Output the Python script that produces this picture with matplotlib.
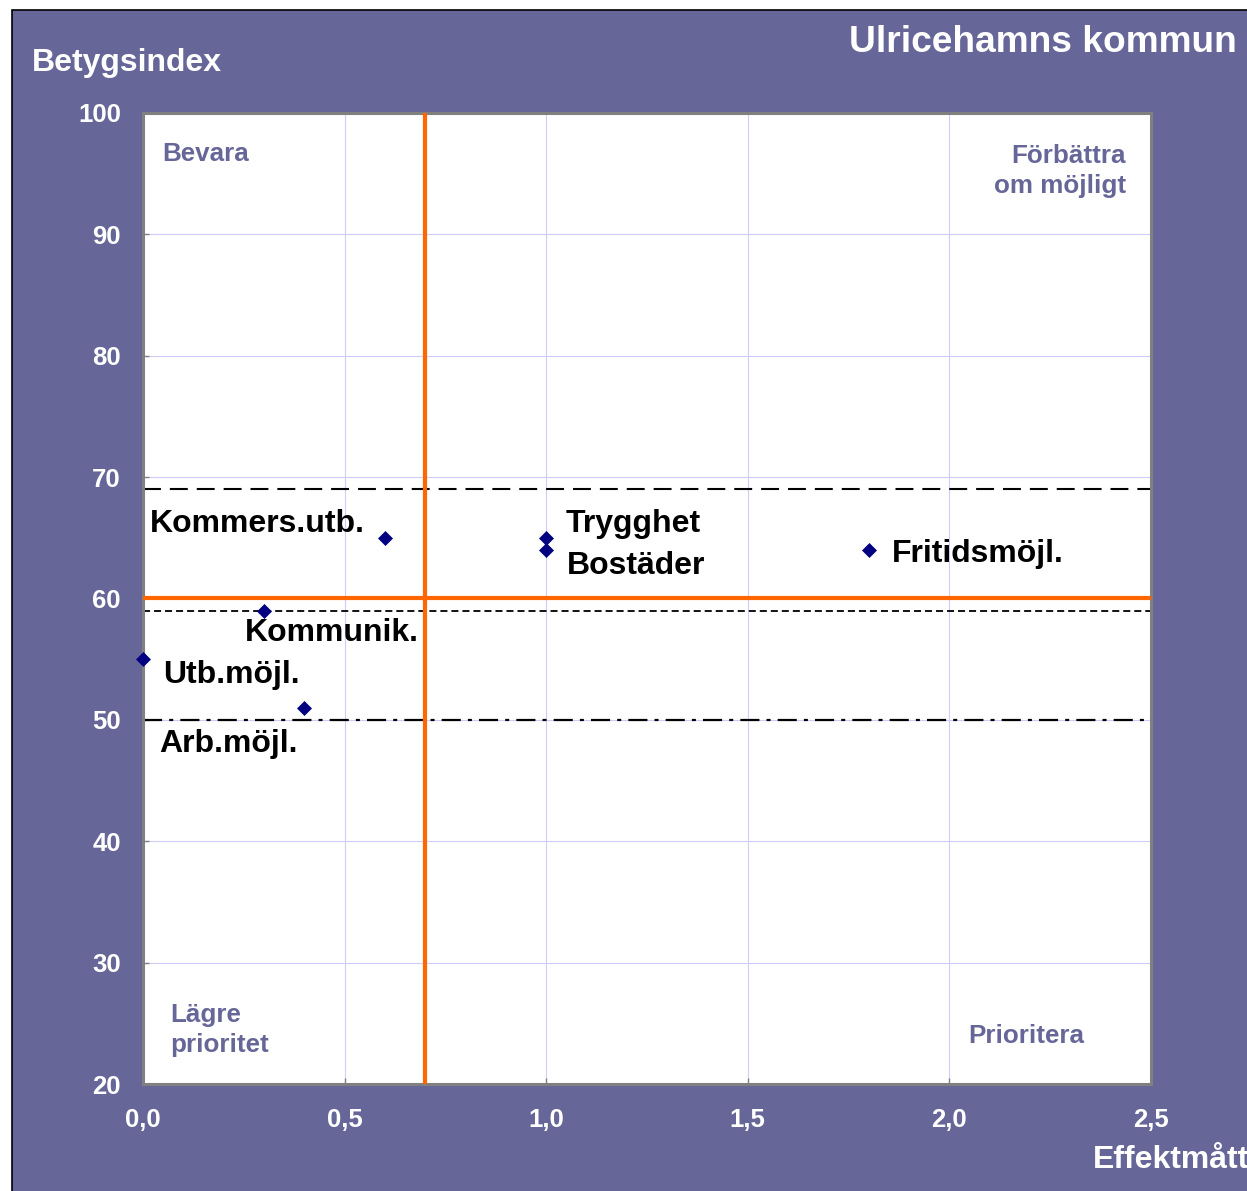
import matplotlib
matplotlib.use("Agg")
import matplotlib.pyplot as plt
from matplotlib.patches import Rectangle

# ---- data ----
labels = ["Kommers.utb.", "Kommunik.", "Utb.möjl.", "Arb.möjl.", "Trygghet", "Bostäder", "Fritidsmöjl."]
effekt = [0.6, 0.3, 0.0, 0.4, 1.0, 1.0, 1.8]
betyg = [65, 59, 55, 51, 65, 64, 64]
label_offsets = [(-20, 14, "right"), (-19, -22, "left"), (20, -16, "left"), (-7, -36, "right"),
                 (19, 14, "left"), (21, -16, "left"), (23, -4, "left")]
x_ticks = [0.0, 0.5, 1.0, 1.5, 2.0, 2.5]
x_tick_labels = ["0,0", "0,5", "1,0", "1,5", "2,0", "2,5"]
y_ticks = [20, 30, 40, 50, 60, 70, 80, 90, 100]
vline_x = 0.7
hline_y = 60
ref_dashed = 69
ref_short = 59
ref_dashdot = 50

W, H = 1247, 1191
DPI = 100
plt.rcParams['font.family'] = ['Liberation Sans', 'DejaVu Sans']
plt.rcParams['font.weight'] = 'bold'

PURPLE = '#666699'
fig = plt.figure(figsize=(W / DPI, H / DPI), dpi=DPI, facecolor='white')

def fx(px):
    return px / W

def fy(py):
    return 1 - py / H

# purple background panel
bg = Rectangle((fx(12), fy(1192)), 1 - fx(12) + 0.01, fy(10) - fy(1192), transform=fig.transFigure,
               facecolor=PURPLE, edgecolor='black', linewidth=1.2, zorder=-10)
fig.patches.append(bg)

ax = fig.add_axes([fx(143), fy(1084), fx(1151) - fx(143), fy(113) - fy(1084)])
ax.set_zorder(1)
ax.set_facecolor('white')
ax.set_xlim(0, 2.5)
ax.set_ylim(20, 100)
ax.set_xticks(x_ticks)
ax.set_xticklabels(x_tick_labels)
ax.set_yticks(y_ticks)
ax.grid(True, color='#ccccff', linewidth=0.8, zorder=0)
ax.set_axisbelow(True)
for s in ax.spines.values():
    s.set_color('#808080')
    s.set_linewidth(2.2)
ax.tick_params(direction='in', length=4, width=1, color='#808080', labelcolor='white',
               labelsize=18.5, pad=17)
ax.tick_params(axis='y', pad=16)
for t in ax.get_xticklabels() + ax.get_yticklabels():
    t.set_fontweight('bold')

# reference lines
ax.axhline(ref_dashed, color='black', linewidth=1.5, dashes=(8.6, 4.3), zorder=2)
ax.axhline(ref_short, color='black', linewidth=1.3, dashes=(3.9, 2.2), zorder=2)
ax.axhline(ref_dashdot, color='black', linewidth=1.6, dashes=(8.6, 3.2, 1.8, 3.2), zorder=2)
ax.axvline(vline_x, color='#ff6600', linewidth=3, zorder=3)
ax.axhline(hline_y, color='#ff6600', linewidth=3, zorder=3)

ax.plot(effekt, betyg, linestyle='none', marker='D', markersize=7, color='#000080',
        markeredgewidth=0.5, clip_on=False, zorder=5)
for lab, x, y, (dx, dy, ha) in zip(labels, effekt, betyg, label_offsets):
    ax.annotate(lab, xy=(x, y), xytext=(dx, dy), textcoords='offset pixels', ha=ha, va='center',
                fontsize=23, fontweight='bold', color='black', zorder=6)

# quadrant labels
qk = dict(color=PURPLE, fontsize=18.7, fontweight='bold', transform=fig.transFigure, zorder=10)
fig.text(fx(162), fy(154), "Bevara", ha='left', va='center', **qk)
fig.text(fx(1126), fy(171), "Förbättra\nom möjligt", ha='right', va='center', linespacing=1.32, multialignment='right', **qk)
fig.text(fx(170), fy(1030), "Lägre\nprioritet", ha='left', va='center', linespacing=1.32, **qk)
fig.text(fx(968), fy(1036), "Prioritera", ha='left', va='center', **qk)

# titles
fig.text(fx(1237), fy(43), "Ulricehamns kommun", ha='right', va='center', color='white',
         fontsize=26.7, fontweight='bold')
fig.text(fx(32), fy(63), "Betygsindex", ha='left', va='center', color='white',
         fontsize=23, fontweight='bold')
fig.text(fx(1093), fy(1160), "Effektmått", ha='left', va='center', color='white',
         fontsize=23, fontweight='bold')

fig.savefig('out.png', dpi=DPI, facecolor='white')
